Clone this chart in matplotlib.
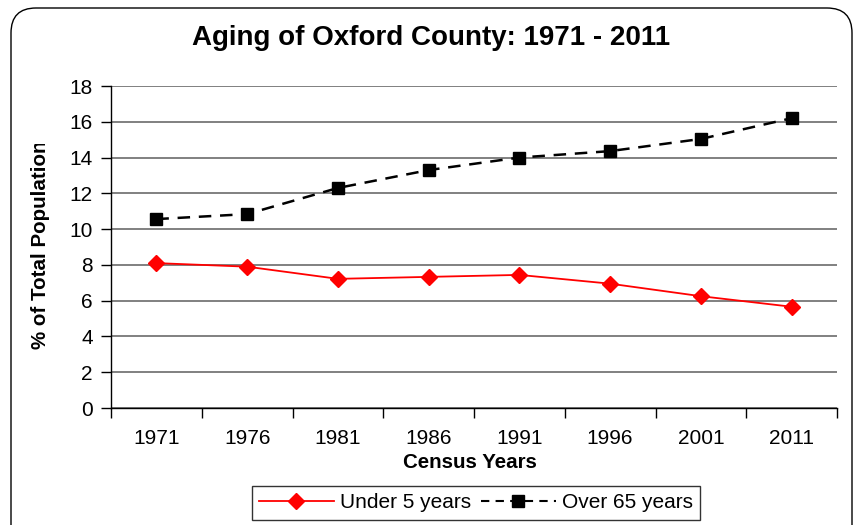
import matplotlib
matplotlib.use("Agg")
import matplotlib.pyplot as plt
from matplotlib.patches import FancyBboxPatch
from matplotlib.lines import Line2D
from matplotlib.transforms import Bbox, IdentityTransform

years = ["1971", "1976", "1981", "1986", "1991", "1996", "2001", "2011"]
under5 = [8.1, 7.9, 7.22, 7.33, 7.44, 6.95, 6.25, 5.66]
over65 = [10.56, 10.84, 12.3, 13.3, 14.0, 14.36, 15.04, 16.2]

plt.rcParams['font.family'] = ['Liberation Sans', 'DejaVu Sans']

W, H = 859, 525
fig = plt.figure(figsize=(W / 100, H / 100), dpi=100)

# rounded outer border (display/pixel coords, origin bottom-left)
border = FancyBboxPatch((11, -40), 841, H - 8 + 40,
                        boxstyle="round,pad=0,rounding_size=25",
                        transform=IdentityTransform(), fill=False,
                        edgecolor='black', linewidth=1.0)
fig.patches.append(border)

left, right, top, bottom = 111, 837, 86, 408
ax = fig.add_axes([left / W, 1 - bottom / H, (right - left) / W, (bottom - top) / H])

x = list(range(len(years)))
ax.plot(x, under5, color='#FF0000', linewidth=1.3, marker='D', markersize=8,
        markeredgecolor='#FF0000', markerfacecolor='#FF0000', label='Under 5 years')
ax.plot(x, over65, color='black', linewidth=1.8, linestyle=(0, (5, 3.5)), marker='s',
        markersize=9, markeredgecolor='black', markerfacecolor='black', label='Over 65 years')

ax.set_xlim(-0.5, len(years) - 0.5)
ax.set_ylim(0, 18)
ax.set_yticks(range(0, 19, 2))
ax.yaxis.grid(True, color='#808080', linewidth=1.4)
ax.set_axisbelow(True)

ax.set_xticks(x)
ax.set_xticklabels(years, fontsize=15)
ax.tick_params(axis='x', length=0, pad=15)
ax.set_xticks([i - 0.5 for i in range(len(years) + 1)], minor=True)
ax.tick_params(axis='x', which='minor', length=7, width=1, direction='out', color='black')
ax.tick_params(axis='y', length=7, width=1, direction='out', labelsize=15, pad=6)

for s in ['top', 'right']:
    ax.spines[s].set_visible(False)
ax.spines['left'].set_linewidth(1.0)
ax.spines['bottom'].set_linewidth(1.0)

fig.text(431 / W, 1 - 38 / H, "Aging of Oxford County: 1971 - 2011", ha='center', va='center',
         fontsize=20, fontweight='bold')
fig.text(470 / W, 1 - 463 / H, "Census Years", ha='center', va='center',
         fontsize=14.8, fontweight='bold')
yl = fig.text(41 / W, 1 - 245 / H, "% of Total Population", ha='center', va='center',
              rotation=90, fontsize=14.8, fontweight='bold')
yl.set_clip_box(Bbox.from_extents(0, 0, 100, H - 144))
yl.set_clip_on(True)

handles = [
    Line2D([0], [0], color='#FF0000', linewidth=1.3, marker='D', markersize=8),
    Line2D([0], [0], color='black', linewidth=1.5, linestyle=(0, (4, 3)), marker='s', markersize=8),
]
leg = fig.legend(handles, ['Under 5 years', 'Over 65 years'], loc='center',
                 bbox_to_anchor=(476 / W, 1 - 503 / H), ncol=2, frameon=True,
                 fancybox=False, edgecolor='black', fontsize=15, handlelength=3.6,
                 columnspacing=0.45, handletextpad=0.3, borderpad=0.35, borderaxespad=0)
leg.get_frame().set_linewidth(1.0)

fig.savefig("out.png", dpi=100)
